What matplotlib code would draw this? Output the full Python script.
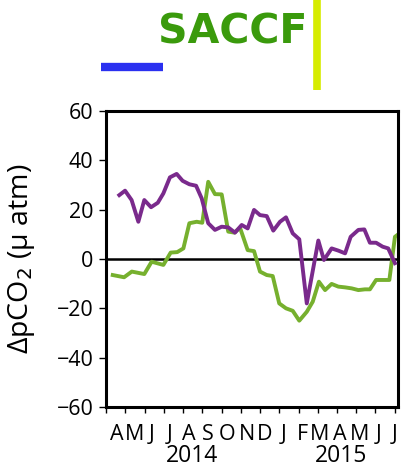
import matplotlib.pyplot as plt
from matplotlib.lines import Line2D

# months since 1 Apr 2014 and delta pCO2 (uatm)
purple_t = [0.69, 0.99, 1.33, 1.68, 1.99, 2.34, 2.69, 2.98, 3.32, 3.67, 3.98, 4.33,
            4.68, 4.97, 5.31, 5.66, 6.01, 6.35, 6.70, 7.05, 7.36, 7.69, 8.00, 8.35,
            8.69, 9.04, 9.35, 9.70, 10.04, 10.43, 11.03, 11.32, 11.72, 12.07, 12.42,
            12.71, 13.11, 13.42, 13.71, 14.03, 14.37, 14.66, 15.01]
purple_v = [25.9, 27.7, 23.9, 15.1, 23.9, 21.0, 22.8, 26.6, 33.1, 34.5, 31.7, 30.3,
            29.7, 24.6, 14.5, 11.8, 13.1, 12.8, 10.7, 13.8, 12.4, 19.9, 17.8, 17.4,
            11.5, 15.1, 16.9, 10.4, 8.0, -18.0, 7.5, -0.4, 4.3, 3.4, 2.3,
            9.0, 11.8, 12.0, 6.6, 6.6, 5.0, 4.3, -1.7]

green_t = [0.35, 0.94, 1.34, 1.99, 2.37, 2.98, 3.36, 3.70, 4.02, 4.33, 4.71, 5.00,
           5.31, 5.66, 6.01, 6.35, 6.67, 6.96, 7.36, 7.69, 8.00, 8.35, 8.66, 9.00,
           9.35, 9.70, 10.04, 10.43, 10.74, 11.06, 11.38, 11.72, 12.07, 12.42, 12.76,
           13.11, 13.45, 13.71, 14.03, 14.37, 14.72, 15.01, 15.13]
green_v = [-6.5, -7.4, -5.1, -6.1, -1.1, -2.4, 2.6, 2.8, 4.3, 14.5, 15.1, 14.7,
           31.3, 26.3, 26.2, 11.1, 10.7, 12.7, 3.6, 3.2, -5.1, -6.5, -6.9, -18.0,
           -20.0, -21.0, -25.0, -21.4, -17.3, -9.2, -12.6, -10.1, -11.2, -11.5, -11.9,
           -12.6, -12.3, -12.3, -8.5, -8.5, -8.5, 9.0, 9.7]

month_labels = ['A', 'M', 'J', 'J', 'A', 'S', 'O', 'N', 'D', 'J', 'F', 'M', 'A', 'M', 'J', 'J']
years = ['2014', '2015']
yticks = [-60, -40, -20, 0, 20, 40, 60]

# where the letters / years sit along the month axis
month_label_pos = [0.56, 1.47, 2.37, 3.32, 4.28, 5.31, 6.27, 7.31, 8.26, 9.21,
                   10.22, 11.12, 12.16, 13.19, 14.14, 15.01]
year_pos = [4.45, 12.2]

plt.rcParams['font.family'] = ['Open Sans', 'DejaVu Sans']

fig = plt.figure(figsize=(4.02, 4.69), dpi=100)
ax = fig.add_axes([0.2637, 0.1322, 0.7264, 0.6311])

ax.axhline(0, color='black', lw=1.8, zorder=1)
ax.plot(green_t, green_v, color='#76B02E', lw=2.8, zorder=2)
ax.plot(purple_t, purple_v, color='#7A2A8C', lw=2.8, zorder=3)

ax.set_xlim(0, 15.17)
ax.set_ylim(-60, 60)
ax.set_yticks(yticks)
ax.set_yticklabels([str(v).replace('-', '\u2212') for v in yticks])

# month boundaries as ticks, letters inside each month
ax.set_xticks(range(16))
ax.set_xticklabels([])
ax.set_xticks(month_label_pos, minor=True)
ax.set_xticklabels(month_labels, minor=True)
ax.tick_params(axis='x', which='major', direction='out', length=4, width=1)
ax.tick_params(axis='x', which='minor', length=0, pad=12, labelsize=15.5)
ax.tick_params(axis='y', direction='out', length=5, width=1, labelsize=15.5, pad=4)

for y, lab in zip(year_pos, years):
    ax.text(y, -0.166, lab, transform=ax.get_xaxis_transform(), ha='center',
            va='center', fontsize=16.5)

for s in ax.spines.values():
    s.set_linewidth(2.2)

ax.set_ylabel('ΔpCO$_2$ (μ atm)', fontsize=20.5)
ax.yaxis.set_label_coords(-0.236, 0.5)

fig.text(0.578, 1 - 43 / 469, 'SACCF', color='#3A9A0C', fontsize=29.5, fontweight='bold',
         family='DejaVu Sans', ha='center', va='baseline')
fig.add_artist(Line2D([101 / 402, 163 / 402], [1 - 67 / 469, 1 - 67 / 469],
                      color='#2A30F0', lw=6, solid_capstyle='butt'))
fig.add_artist(Line2D([317 / 402, 317 / 402], [1.0, 1 - 90 / 469],
                      color='#D6EC00', lw=5.5, solid_capstyle='butt'))

fig.savefig('out.png', dpi=100)
